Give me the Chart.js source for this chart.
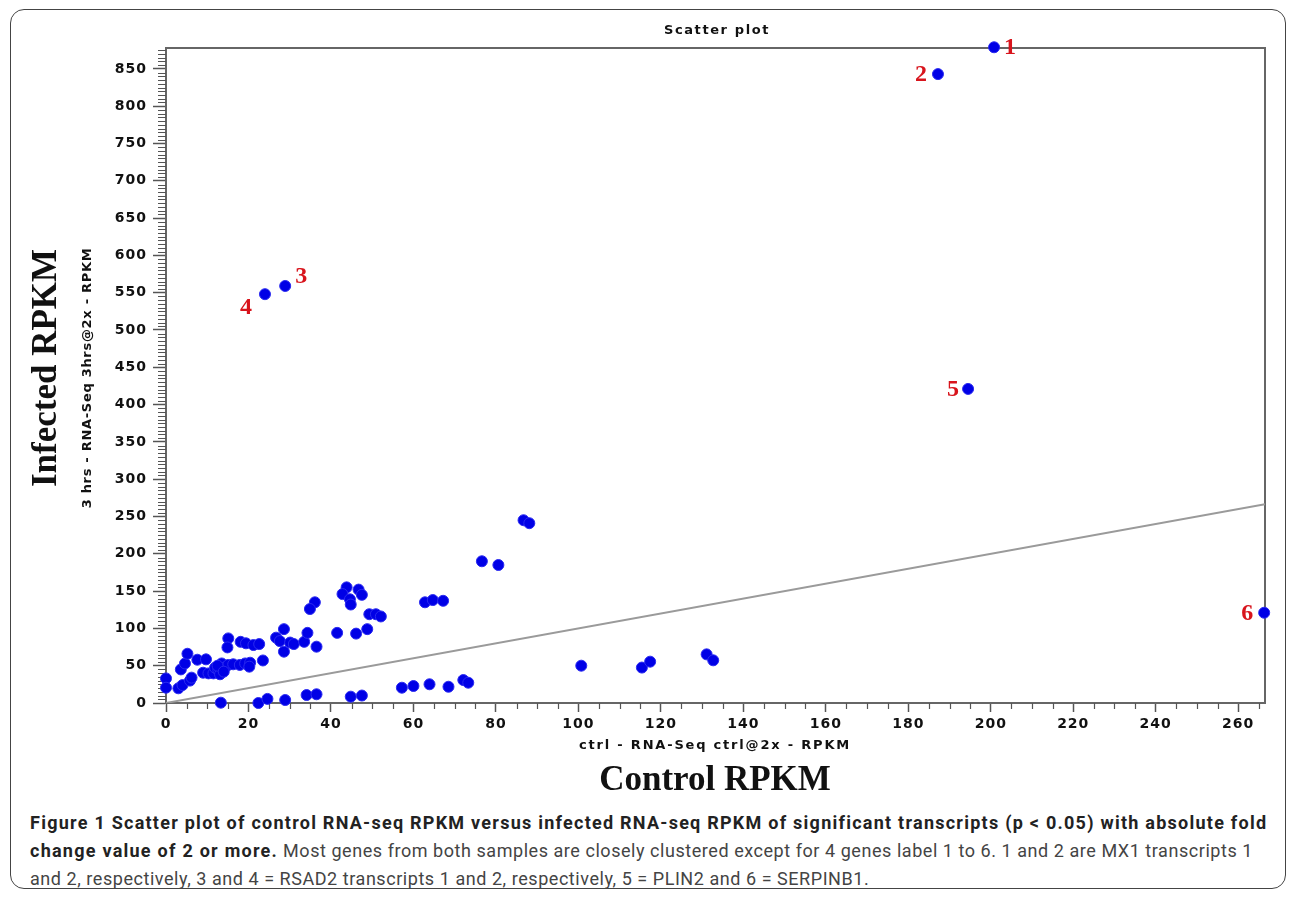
<!DOCTYPE html>
<html lang="en">
<head>
<meta charset="UTF-8">
<title>Scatter plot</title>
<script src="https://cdn.jsdelivr.net/npm/chart.js"></script>
<style>
  html, body { margin: 0; padding: 0; background: #fff; }
  body { width: 1290px; height: 897px; position: relative; overflow: hidden; }
  .frame {
    position: absolute; left: 10px; top: 9px; width: 1276px; height: 880px;
    border: 1.5px solid #444; border-radius: 14px; box-sizing: border-box;
  }
  .chart-box { position: absolute; left: 0; top: 0; width: 1290px; height: 800px; }
  .caption {
    position: absolute; left: 30px; top: 809px; width: 1255px;
    font-family: "Roboto", sans-serif;
    font-size: 18px; line-height: 28px; color: #444; white-space: nowrap;
    letter-spacing: 0.55px;
  }
  .caption b { color: #222; letter-spacing: 1.25px; }
</style>
</head>
<body>
<div class="frame"></div>
<div class="chart-box"><canvas id="scatterChart"></canvas></div>
<div class="caption">
  <b>Figure 1 Scatter plot of control RNA-seq RPKM versus infected RNA-seq RPKM of significant transcripts (p &lt; 0.05) with absolute fold</b><br>
  <b>change value of 2 or more.</b> Most genes from both samples are closely clustered except for 4 genes label 1 to 6. 1 and 2 are MX1 transcripts 1<br>
  and 2, respectively, 3 and 4 = RSAD2 transcripts 1 and 2, respectively, 5 = PLIN2 and 6 = SERPINB1.
</div>

<script>
// control RPKM (x) / infected RPKM (y)
const ctrlRpkm = [
  200.8, 187.2, 28.9, 24.0, 194.5, 266.3,
  86.7, 88.1, 76.6, 80.6, 62.8, 64.7, 67.2,
  100.7, 115.4, 117.4, 131.1, 132.7,
  57.2, 60.0, 63.9, 68.5, 72.1, 73.3,
  13.3, 22.4, 24.6, 28.9, 34.1, 36.5, 44.8, 47.5,
  43.8, 42.8, 46.7, 47.5, 44.6, 44.8, 36.1, 34.9, 49.3, 50.9, 52.1,
  28.6, 26.7, 27.6, 30.1, 31.0, 33.5, 34.3, 36.5, 28.6, 41.5, 46.1, 48.8,
  0, 0, 3.0, 4.0, 5.8, 6.2, 3.6, 4.6, 5.2, 7.6, 9.7, 9.0, 10.3, 11.5, 11.9,
  12.7, 13.5, 14.3, 13.1, 15.1, 16.3, 17.9, 19.2, 20.4, 20.2, 23.5,
  15.1, 14.9, 18.1, 19.4, 21.2, 22.6, 12.5, 14.0
];
const infectedRpkm = [
  879, 843, 559, 548, 421, 121,
  245, 241, 190, 185, 135, 138, 137,
  50, 47.5, 55.4, 65.2, 57.2,
  20.5, 22.8, 25.1, 21.8, 30.8, 27.2,
  0.4, 0, 5.5, 4, 10.7, 11.7, 8.5, 10,
  155, 146, 152, 145, 139, 132, 135, 126, 119, 119, 116,
  99, 87.6, 83, 81, 79, 82, 94, 75.5, 68.8, 94, 93, 99,
  33, 20.5, 19.7, 24, 30, 34, 45, 53, 66, 58, 58.5, 40.6, 39.7, 39.7, 47.3,
  44, 53, 47.7, 38.5, 51, 51.9, 51, 53, 54, 48.7, 57,
  86.6, 74.5, 82, 80, 77.7, 79, 50, 42
];
// numbered outliers: index into the arrays above, label, text offset in px
const outlierIndex = [0, 1, 2, 3, 4, 5];
const outlierLabels = ['1', '2', '3', '4', '5', '6'];
const labelOffsets = [[16, 1], [-17, 1], [16, -9], [-19, 14], [-15, 1], [-17, 1]];

const xMax = 266.5;
const yMax = 878;
const xTickStep = 20;
const yTickStep = 50;
const minorStep = 5;

const points = ctrlRpkm.map((x, i) => ({ x: x, y: infectedRpkm[i] }));

const frameAndText = {
  id: 'frameAndText',
  beforeDraw(chart) {
    // wide, spaced tick lettering like the original
    chart.ctx.letterSpacing = '1px';
  },
  beforeDatasetsDraw(chart) {
    const ctx = chart.ctx;
    const a = chart.chartArea;
    const xs = chart.scales.x, ys = chart.scales.y;
    ctx.save();
    ctx.strokeStyle = '#666';
    ctx.lineWidth = 2;
    ctx.beginPath();
    ctx.moveTo(a.left, a.top);
    ctx.lineTo(a.right, a.top);
    ctx.lineTo(a.right, a.bottom);
    ctx.stroke();
    // minor ticks
    ctx.lineWidth = 1.2;
    ctx.strokeStyle = '#555';
    ctx.beginPath();
    for (let v = minorStep; v < yMax; v += minorStep) {
      if (v % yTickStep === 0) continue;
      const py = Math.round(ys.getPixelForValue(v)) + 0.5;
      ctx.moveTo(a.left - 8, py);
      ctx.lineTo(a.left, py);
    }
    for (let v = minorStep; v < xMax; v += minorStep) {
      if (v % xTickStep === 0) continue;
      const px = Math.round(xs.getPixelForValue(v)) + 0.5;
      ctx.moveTo(px, a.bottom);
      ctx.lineTo(px, a.bottom + 6);
    }
    ctx.stroke();
    ctx.restore();
  },
  afterDraw(chart) {
    const ctx = chart.ctx;
    ctx.save();
    ctx.fillStyle = '#111';
    ctx.textAlign = 'left';
    ctx.textBaseline = 'middle';
    const centred = (txt, x, y) => {
      const w = ctx.measureText(txt).width;
      ctx.fillText(txt, x - w / 2, y);
    };
    ctx.font = 'bold 13px "DejaVu Sans"';
    ctx.letterSpacing = '1.6px';
    centred('Scatter plot', 717, 31);
    ctx.letterSpacing = '1.8px';
    centred('ctrl - RNA-Seq ctrl@2x - RPKM', 715, 746);
    ctx.save();
    ctx.translate(88, 378);
    ctx.rotate(-Math.PI / 2);
    ctx.letterSpacing = '0.7px';
    centred('3 hrs - RNA-Seq 3hrs@2x - RPKM', 0, 0);
    ctx.restore();
    ctx.letterSpacing = '0px';
    ctx.font = 'bold 35px "Liberation Serif"';
    centred('Control RPKM', 715, 781);
    ctx.save();
    ctx.translate(47, 368);
    ctx.rotate(-Math.PI / 2);
    centred('Infected RPKM', 0, 0);
    ctx.restore();
    // outlier numbers
    const meta = chart.getDatasetMeta(0);
    ctx.fillStyle = '#d8141c';
    ctx.font = 'bold 24px "Liberation Serif"';
    outlierIndex.forEach((idx, k) => {
      const el = meta.data[idx];
      centred(outlierLabels[k], el.x + labelOffsets[k][0], el.y + labelOffsets[k][1]);
    });
    ctx.restore();
  }
};

new Chart(document.getElementById('scatterChart'), {
  type: 'scatter',
  data: {
    datasets: [
      {
        label: 'transcripts',
        data: points,
        backgroundColor: '#0000e6',
        borderColor: '#2a2af0',
        borderWidth: 1,
        pointRadius: 5.5,
        pointHoverRadius: 5.5,
        clip: false,
        order: 1
      },
      {
        type: 'line',
        label: 'y = x',
        data: [{ x: 0, y: 0 }, { x: xMax, y: xMax }],
        borderColor: '#9a9a9a',
        borderWidth: 2,
        pointRadius: 0,
        fill: false,
        order: 2
      }
    ]
  },
  options: {
    responsive: true,
    maintainAspectRatio: false,
    animation: false,
    layout: { padding: { left: 0, top: 48, right: 25, bottom: 47 } },
    plugins: {
      legend: { display: false },
      title: { display: false },
      tooltip: { enabled: false }
    },
    scales: {
      x: {
        type: 'linear',
        min: 0,
        max: xMax,
        afterFit(scale) { scale.height = 50; },
        border: { display: true, color: '#666', width: 2 },
        grid: { drawOnChartArea: false, drawTicks: true, tickLength: 9, tickColor: '#555', tickWidth: 1.5 },
        ticks: {
          stepSize: xTickStep,
          includeBounds: false,
          maxRotation: 0,
          autoSkip: false,
          padding: 4,
          color: '#111',
          font: { family: 'DejaVu Sans', size: 14, weight: 'bold' }
        }
      },
      y: {
        type: 'linear',
        min: 0,
        max: yMax,
        afterFit(scale) { scale.width = 166; },
        border: { display: true, color: '#666', width: 2 },
        grid: { drawOnChartArea: false, drawTicks: true, tickLength: 13, tickColor: '#555', tickWidth: 1.5 },
        ticks: {
          stepSize: yTickStep,
          includeBounds: false,
          autoSkip: false,
          padding: 6,
          color: '#111',
          font: { family: 'DejaVu Sans', size: 14, weight: 'bold' }
        }
      }
    }
  },
  plugins: [frameAndText]
});
</script>
</body>
</html>
